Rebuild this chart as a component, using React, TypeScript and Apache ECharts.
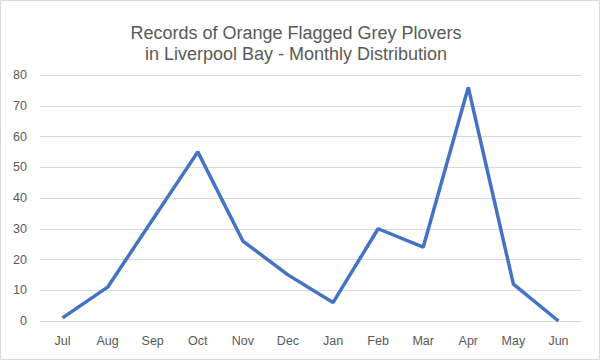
import React, { useEffect, useRef } from "react";
import * as echarts from "echarts";

const months = ["Jul", "Aug", "Sep", "Oct", "Nov", "Dec", "Jan", "Feb", "Mar", "Apr", "May", "Jun"];
const records = [1, 11, 33, 55, 26, 15, 6, 30, 24, 76, 12, 0];
const titleLines = ["Records of Orange Flagged Grey Plovers", "in Liverpool Bay - Monthly Distribution"];

export default function App() {
  const ref = useRef<HTMLDivElement>(null);
  useEffect(() => {
    const chart = echarts.init(ref.current!, null, { renderer: "svg" });
    chart.setOption({
      animation: false,
      backgroundColor: "#ffffff",
      title: {
        text: titleLines.join("\n"),
        left: 291,
        textAlign: "center",
        top: 17,
        textStyle: {
          fontFamily: "Liberation Sans",
          fontWeight: "normal",
          fontSize: 18,
          color: "#595959",
          lineHeight: 21,
        },
      },
      grid: { left: 40, right: 19, top: 75, bottom: 39 },
      xAxis: {
        type: "category",
        data: months,
        boundaryGap: true,
        axisLine: { show: true, lineStyle: { color: "#d9d9d9", width: 1 } },
        axisTick: { show: false },
        axisLabel: { color: "#595959", fontSize: 12.5, fontFamily: "Liberation Sans", margin: 13 },
      },
      yAxis: {
        type: "value",
        min: 0,
        max: 80,
        interval: 10,
        axisLine: { show: false },
        axisTick: { show: false },
        axisLabel: { color: "#595959", fontSize: 12.5, fontFamily: "Liberation Sans", margin: 13 },
        splitLine: { lineStyle: { color: "#d9d9d9", width: 1 } },
      },
      series: [
        {
          type: "line",
          data: records,
          symbol: "none",
          lineStyle: { color: "#4472C4", width: 3.5 },
        },
      ],
      graphic: [
        {
          type: "rect",
          shape: { x: 0.5, y: 0.5, width: 599, height: 359 },
          style: { fill: "none", stroke: "#d9d9d9", lineWidth: 1 },
          silent: true,
        },
      ],
    });
    return () => chart.dispose();
  }, []);
  return <div ref={ref} style={{ position: "fixed", left: 0, top: 0, width: 600, height: 360 }} />;
}
